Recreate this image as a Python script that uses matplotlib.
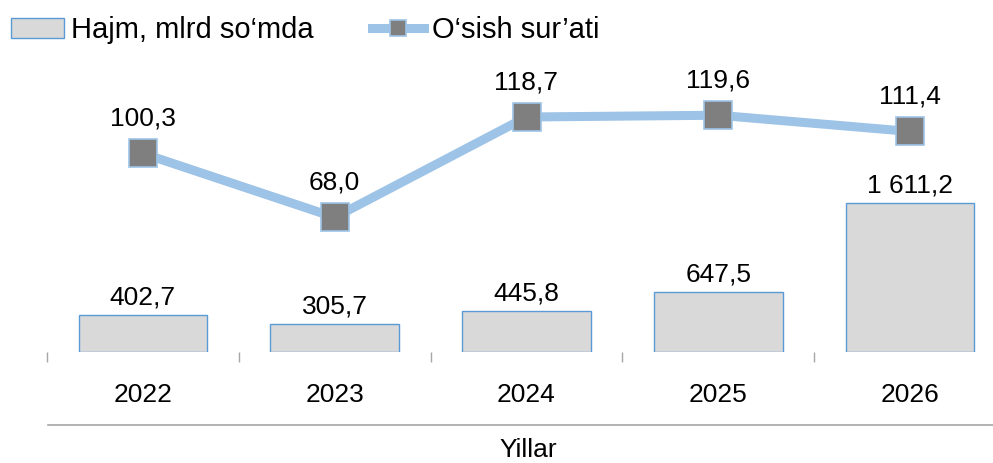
import matplotlib.pyplot as plt
from matplotlib.lines import Line2D

plt.rcParams['font.family'] = ['Liberation Sans', 'DejaVu Sans']

years = ['2022', '2023', '2024', '2025', '2026']
hajm = [402.7, 305.7, 445.8, 647.5, 1611.2]
osish = [100.3, 68.0, 118.7, 119.6, 111.4]


def fmt(v):
    s = f"{v:,.1f}"
    return s.replace(',', ' ').replace('.', ',')


fig = plt.figure(figsize=(9.93, 4.63), dpi=100)
ax = fig.add_axes([47 / 993, 111 / 463, 959 / 993, 292 / 463])
ax2 = ax.twinx()

x = list(range(len(years)))
ax.bar(x, hajm, width=0.67, color='#D9D9D9', edgecolor='#5B9BD5',
       linewidth=1.0, label='Hajm, mlrd so‘mda', zorder=2)
ax.set_ylim(0, 3154)
ax.set_xlim(-0.5, len(years) - 0.5)
for xi, v in zip(x, hajm):
    ax.annotate(fmt(v), (xi, v), xytext=(0, 12.5), textcoords='offset points',
                ha='center', va='center', fontsize=19)

ax2.plot(x, osish, color='#9DC3E6', linewidth=6.5, marker='s', markersize=20,
         markerfacecolor='#7F7F7F', markeredgecolor='#9DC3E6',
         markeredgewidth=1.2, label='O‘sish sur’ati', zorder=3)
ax2.set_ylim(0, 147.5)
for xi, v in zip(x, osish):
    ax2.annotate(fmt(v), (xi, v), xytext=(0, 25), textcoords='offset points',
                 ha='center', va='center', fontsize=19)

for a in (ax, ax2):
    for s in a.spines.values():
        s.set_visible(False)
    a.set_yticks([])

ax.set_xticks(x)
ax.set_xticklabels(years, fontsize=19)
ax.tick_params(axis='x', which='major', length=0, pad=22)
ax.set_xticks([i - 0.5 for i in range(len(years) + 1)], minor=True)
ax.tick_params(axis='x', which='minor', length=7, color='#A6A6A6', width=1)

fig.add_artist(Line2D([48 / 993, 1.0], [38 / 463, 38 / 463],
                      color='#A6A6A6', linewidth=1.2))
fig.text(528 / 993, 13 / 463, 'Yillar', ha='center', va='center', fontsize=19)

h1, l1 = ax.get_legend_handles_labels()
h2, l2 = ax2.get_legend_handles_labels()
fig.legend(h1 + h2, l1 + l2, loc='upper left',
           bbox_to_anchor=(11 / 993, 447 / 463),
           ncol=2, frameon=False, fontsize=21, handlelength=1.8,
           handletextpad=0.25, columnspacing=2.0, borderaxespad=0,
           borderpad=0, markerscale=0.55)

fig.savefig('out.png', dpi=100)
